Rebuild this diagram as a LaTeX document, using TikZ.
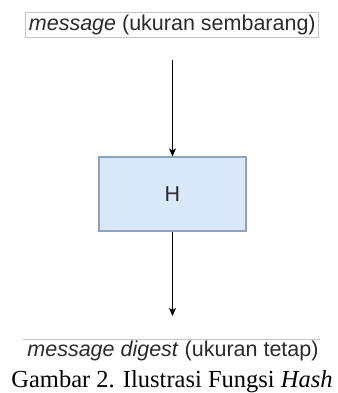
\documentclass[tikz,border=0pt]{standalone}
\usepackage{fontspec}
\setmainfont{Liberation Serif}
\setsansfont{Liberation Sans}
\usetikzlibrary{arrows.meta}
\definecolor{txt}{HTML}{2B2B2B}
\definecolor{boxfill}{HTML}{DAE8FC}
\definecolor{boxdraw}{HTML}{8EA4C4}
\definecolor{frame}{HTML}{C4C4C4}
\tikzset{
  lbl/.style={font=\sffamily\fontsize{21.5}{24}\selectfont, text=txt, inner sep=0pt},
  hbox/.style={draw=boxdraw, fill=boxfill, line width=1.2pt, minimum width=147pt, minimum height=74pt, inner sep=0pt, font=\sffamily\fontsize{21.5}{24}\selectfont, text=txt},
  flow/.style={line width=1pt, -{Stealth[length=8pt,width=7pt,inset=2pt]}},
  captext/.style={font=\fontsize{24.5}{28}\selectfont, text=black, inner sep=0pt}
}
\begin{document}
\begin{tikzpicture}[x=1pt,y=-1pt]
\useasboundingbox (0,0) rectangle (337,393);
\node[lbl, draw=frame, line width=0.8pt, minimum width=293pt, minimum height=25pt] (msg) at (172.3,24.5) {\textit{message} (ukuran sembarang)};
\coordinate (a1) at (172.5,60);
\node[hbox] (H) at (172.5,194) {H};
\coordinate (a2) at (172.5,316);
\draw[flow] (a1) -- (H.north);
\draw[flow] (H.south) -- (a2);
\draw[frame, line width=0.8pt] (23,339) -- (320,339);
\node[lbl, anchor=base] (dig) at (173,356) {\textit{message digest} (ukuran tetap)};
\node[captext, anchor=base] (capt) at (172,387) {Gambar 2. Ilustrasi Fungsi \textit{Hash}};
\end{tikzpicture}
\end{document}
